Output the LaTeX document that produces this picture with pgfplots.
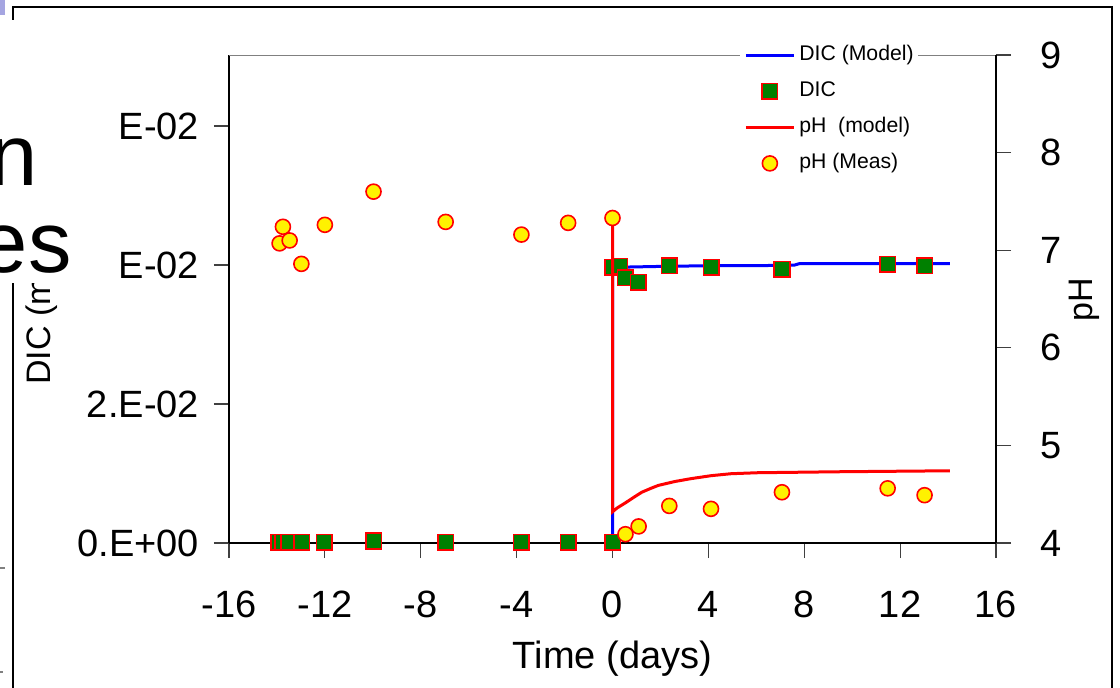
\documentclass[border=0pt]{standalone}
\usepackage{fontspec}
\setmainfont{Liberation Sans}
\usepackage{pgfplots}
\pgfplotsset{compat=1.18}
\definecolor{dicgreen}{RGB}{0,128,0}
\definecolor{lav}{RGB}{165,165,225}
\pgfplotsset{
  myleg/.style={legend image code/.code={\draw[mark repeat=2,mark phase=2,##1] plot coordinates {(0pt,0pt)(12pt,0pt)(24pt,0pt)};}},
  common/.style={
    at={(114.5pt,72pt)}, anchor=south west,
    width=383.5pt, height=244pt, scale only axis,
    xmin=-16, xmax=16,
    scaled ticks=false,
    tick align=outside, major tick length=7.5pt,
    tick style={black!75, line width=0.6pt},
    axis line style={-, black, line width=0.8pt},
    ticklabel style={font=\fontsize{19}{22}\selectfont},
  },
}
\begin{document}
\begin{tikzpicture}
\useasboundingbox (0,0) rectangle (560pt,343.5pt);
\begin{axis}[common,
  ymin=0, ymax=0.07022,
  axis x line*=bottom, axis y line*=left,
  xtick={-16,-12,...,16}, xticklabels={-16,-12,-8,-4,0,4,8,12,16},
  ytick={0,0.02,0.04,0.06}, yticklabels={0.E+00,2.E-02,E-02,E-02},
  xticklabel style={yshift=-13pt},
  yticklabel style={xshift=-4pt},
  xlabel={Time (days)}, xlabel style={font=\fontsize{19}{22}\selectfont, yshift=-4.5pt},
  legend style={at={(axis description cs:0.6662,1.0279)}, anchor=north west,
    draw=none, fill=white, inner xsep=2pt, inner ysep=2pt,
    font=\fontsize{10.6}{12}\selectfont, row sep=8.4pt, column sep=2pt,
    nodes={inner sep=0pt, text height=7.6pt, text depth=2pt}, cells={anchor=west}},
]
\draw[gray, line width=0.8pt] (rel axis cs:0,1) -- (rel axis cs:1,1);
\addplot[blue, line width=1.5pt, myleg] coordinates {
  (0,0) (0,0.0396) (0.5,0.0397) (2,0.0398) (4,0.0399) (6,0.0399) (7.6,0.0400) (7.8,0.0402) (14.08,0.0402)};
\addlegendentry{DIC (Model)}
\addplot[only marks, mark=square*, mark size=3.9pt, mark options={fill=dicgreen, draw=red, line width=0.8pt}, myleg] coordinates {
  (-13.93,0.0001) (-13.75,0.0001) (-13.51,0.0001) (-12.96,0.0001) (-12.02,0.0001) (-9.96,0.0003)
  (-6.96,0.0001) (-3.80,0.0001) (-1.85,0.0001) (0,0.0001)
  (0,0.0397) (0.3,0.0398) (0.53,0.0382) (1.08,0.0375) (2.37,0.0399) (4.12,0.0397) (7.07,0.0394) (11.48,0.0401) (13.02,0.0399)};
\addlegendentry{DIC}
\addlegendimage{red, line width=1.5pt, myleg}
\addlegendentry{pH\ \ (model)}
\addlegendimage{only marks, mark=*, mark size=3.75pt, mark options={fill=yellow, draw=red, line width=0.8pt}, myleg}
\addlegendentry{pH (Meas)}
\end{axis}
\begin{axis}[common,
  ymin=4, ymax=9,
  axis y line*=right, axis x line=none,
  ytick={4,5,6,7,8,9}, yticklabels={4,5,6,7,8,9},
  yticklabel style={xshift=11pt},
]
\addplot[red, line width=1.5pt] coordinates {
  (0,7.33) (0,4.32) (0.2,4.36) (0.53,4.41) (0.9,4.47) (1.22,4.52) (1.6,4.56) (1.91,4.59) (2.6,4.63) (3.29,4.66) (4.12,4.69) (4.95,4.71) (6.06,4.72) (9.45,4.73) (14.08,4.74)};
\addplot[only marks, mark=*, mark size=3.75pt, mark options={fill=yellow, draw=red, line width=0.8pt}] coordinates {
  (-13.89,7.07) (-13.75,7.24) (-13.47,7.10) (-12.98,6.86) (-12.0,7.26) (-9.97,7.60) (-6.96,7.29) (-3.80,7.16) (-1.85,7.28) (0,7.33)
  (0.54,4.09) (1.09,4.17) (2.37,4.38) (4.11,4.35) (7.07,4.52) (11.48,4.56) (13.02,4.49)};
\end{axis}
\begin{scope}[x=0.5pt,y=-0.5pt,yshift=343.5pt]
  \node[rotate=90, anchor=base west, inner sep=0pt, font=\fontsize{17}{20}\selectfont] at (50,385) {DIC (mol/L)};
  \node[rotate=90, inner sep=0pt, font=\fontsize{17}{20}\selectfont] at (1084,300) {pH};
  \draw[black, line width=0.8pt] (13,690) -- (13,7) -- (1112,7) -- (1112,690);
  \fill[white] (0,20) rectangle (112,283);
  \fill[lav] (0,0) rectangle (5,15);
  \draw[gray, line width=0.6pt] (0,568) -- (5,568);
  \draw[gray, line width=0.6pt] (0,672) -- (3,672);
  \node[anchor=base east, inner sep=0pt, font=\fontsize{43.4}{50}\selectfont] at (38,185) {n};
  \node[anchor=base east, inner sep=0pt, font=\fontsize{43.4}{50}\selectfont] at (72,272) {es};
\end{scope}
\end{tikzpicture}
\end{document}
